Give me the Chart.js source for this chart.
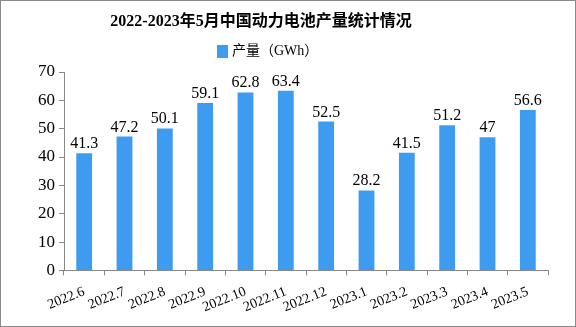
<!DOCTYPE html>
<html><head><meta charset="utf-8">
<script src="https://cdn.jsdelivr.net/npm/chart.js@4/dist/chart.umd.min.js"></script>
<style>
html,body{margin:0;padding:0;background:#fff;}
#wrap{position:relative;width:576px;height:327px;box-sizing:border-box;border:1px solid #8a8a8a;}
canvas{display:block;}
</style></head>
<body><div id="wrap"><canvas id="c" width="574" height="325"></canvas></div>
<script>
const categories = ["2022.6","2022.7","2022.8","2022.9","2022.10","2022.11","2022.12","2023.1","2023.2","2023.3","2023.4","2023.5"];
const production = [41.3,47.2,50.1,59.1,62.8,63.4,52.5,28.2,41.5,51.2,47,56.6];
const yTicks = [0,10,20,30,40,50,60,70];
const titleText = '2022-2023年5月中国动力电池产量统计情况';
const seriesName = '产量（GWh）';
const BAR_COLOR = '#3d9cf0';
const FONT = "'Liberation Serif','Noto Sans CJK SC',serif";

const valueLabels = {
  id:'valueLabels',
  afterDatasetsDraw(chart){
    const ctx = chart.ctx;
    const meta = chart.getDatasetMeta(0);
    ctx.save();
    ctx.fillStyle = '#000';
    ctx.font = "16px " + FONT;
    ctx.textAlign = 'center';
    ctx.textBaseline = 'alphabetic';
    meta.data.forEach((bar,i)=>{
      ctx.fillText(String(production[i]), bar.x, bar.y - 5);
    });
    ctx.restore();
  }
};

const header = {
  id:'header',
  afterDraw(chart){
    const ctx = chart.ctx;
    ctx.save();
    ctx.fillStyle = '#000';
    ctx.font = "bold 16px " + FONT;
    ctx.textAlign = 'center';
    ctx.textBaseline = 'middle';
    ctx.fillText(titleText, 260, 21);
    ctx.fillStyle = BAR_COLOR;
    ctx.fillRect(216, 44, 11, 13);
    ctx.fillStyle = '#000';
    ctx.font = "14px " + FONT;
    ctx.textAlign = 'left';
    ctx.fillText(seriesName, 231, 50);
    ctx.restore();
  }
};

new Chart(document.getElementById('c'), {
  type:'bar',
  data:{labels:categories, datasets:[{label:seriesName, data:production, backgroundColor:BAR_COLOR, barPercentage:0.8, categoryPercentage:0.49}]},
  options:{
    responsive:false, animation:false,
    layout:{padding:{left:33,right:27,top:71,bottom:2}},
    plugins:{
      title:{display:false},
      legend:{display:false},
      tooltip:{enabled:false}
    },
    scales:{
      x:{
        offset:true,
        grid:{display:true, drawOnChartArea:false, drawTicks:true, tickLength:5, color:'#888', offset:true},
        border:{display:true,color:'#888'},
        ticks:{color:'#000', font:{family:FONT,size:14}, autoSkip:false, minRotation:22, maxRotation:22, padding:8}
      },
      y:{
        min:0,max:70,
        afterBuildTicks(axis){ axis.ticks = yTicks.map(v=>({value:v})); },
        grid:{display:true, drawOnChartArea:false, drawTicks:true, tickLength:5, color:'#888'},
        border:{display:true,color:'#888'},
        ticks:{color:'#000', font:{family:FONT,size:17}, padding:4}
      }
    }
  },
  plugins:[valueLabels, header]
});
</script></body></html>
